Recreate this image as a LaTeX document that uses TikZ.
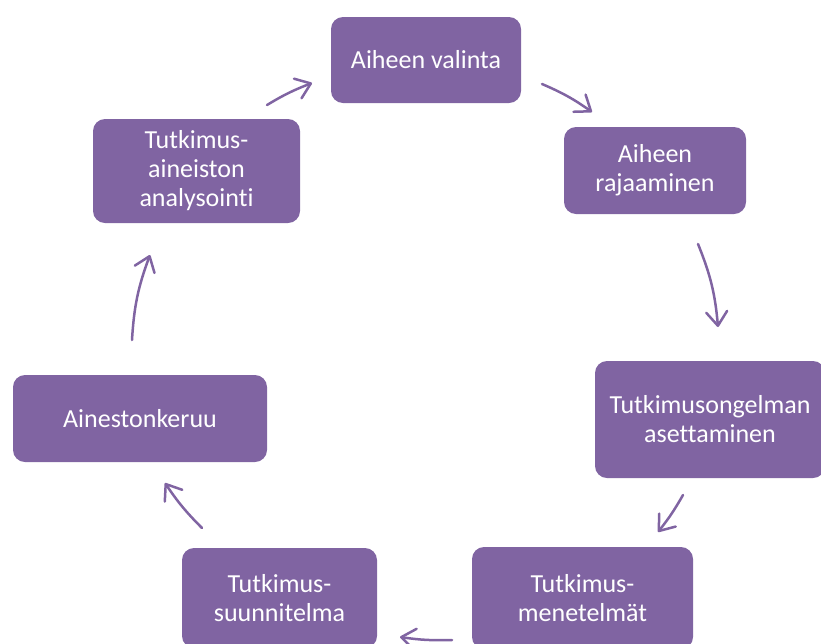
\documentclass[tikz,border=0pt]{standalone}
\usepackage{fontspec}
\setmainfont{Carlito}[Ligatures={NoCommon,NoRare,NoContextual}]
\usetikzlibrary{arrows.meta}
\definecolor{boxpurple}{HTML}{8064A2}
\begin{document}
\begin{tikzpicture}[x=1pt,y=-1pt,
  stagebox/.style={fill=boxpurple, rounded corners=12pt, text=white, align=center,
    font=\fontsize{26}{29}\selectfont, inner sep=0pt},
  cyclearrow/.style={draw=boxpurple, line width=2.5pt, line cap=round, line join=round,
    -{Straight Barb[length=14pt,width=21pt,round]}}]
\useasboundingbox (0,0) rectangle (821,643);
\clip (0,0) rectangle (821,643);
\node[stagebox, minimum width=190pt, minimum height=86pt] (n1) at (426,60) {Aiheen valinta};
\node[stagebox, minimum width=182pt, minimum height=87pt] (n2) at (655,170.5) {Aiheen\\rajaaminen};
\node[stagebox, minimum width=230pt, minimum height=117pt] (n3) at (710,419.5) {Tutkimusongelman\\asettaminen};
\node[stagebox, minimum width=221pt, minimum height=102pt] (n4) at (582.5,598) {Tutkimus-\\menetelmät};
\node[stagebox, minimum width=195pt, minimum height=100pt] (n5) at (279.5,598) {Tutkimus-\\suunnitelma};
\node[stagebox, minimum width=254pt, minimum height=87pt] (n6) at (140,418.5) {Ainestonkeruu};
\node[stagebox, minimum width=207pt, minimum height=104pt] (n7) at (196.5,171) {Tutkimus-\\aineiston\\analysointi};
\coordinate (a1s) at (267,105); \coordinate (a1e) at (312,83);
\coordinate (a2s) at (542,84);  \coordinate (a2e) at (592,112);
\coordinate (a3s) at (698,244); \coordinate (a3e) at (718,327);
\coordinate (a4s) at (683,495); \coordinate (a4e) at (658,532);
\coordinate (a5s) at (452,640); \coordinate (a5e) at (400,637);
\coordinate (a6s) at (202,528); \coordinate (a6e) at (165,483);
\coordinate (a7s) at (132,340); \coordinate (a7e) at (150,255);
\draw[cyclearrow] (a1s) to[bend left=5] (a1e);
\draw[cyclearrow] (a2s) to[bend left=6] (a2e);
\draw[cyclearrow] (a3s) to[bend left=8.5] (a3e);
\draw[cyclearrow] (a4s) to[bend left=4.3] (a4e);
\draw[cyclearrow] (a5s) to[bend left=5] (a5e);
\draw[cyclearrow] (a6s) to[bend left=5.5] (a6e);
\draw[cyclearrow] (a7s) to[bend left=8.5] (a7e);
\end{tikzpicture}
\end{document}
